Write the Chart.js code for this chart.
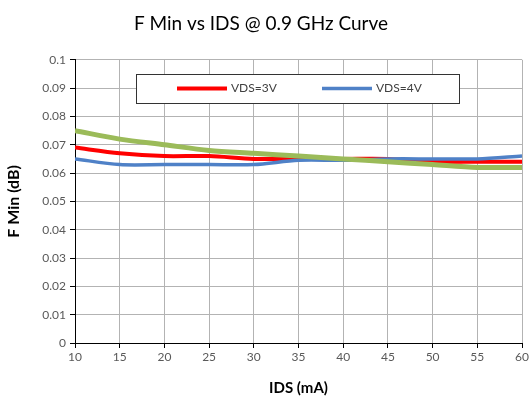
<!DOCTYPE html>
<html>
<head>
<meta charset="utf-8">
<script src="https://cdn.jsdelivr.net/npm/chart.js@4/dist/chart.umd.min.js"></script>
<style>
    html, body { margin: 0; padding: 0; background: #fff; }
    #wrap { width: 532px; height: 401px; }
</style>
</head>
<body>
<div id="wrap"><canvas id="fminChart"></canvas></div>
<script>
// IDS sweep (mA) and minimum noise figure readings (dB)
var ids = [10, 15, 20, 25, 30, 35, 40, 45, 50, 55, 60];
var vds3 = [0.069, 0.067, 0.066, 0.066, 0.065, 0.065, 0.065, 0.065, 0.064, 0.064, 0.064];
var vds4 = [0.065, 0.063, 0.063, 0.063, 0.063, 0.0645, 0.0645, 0.065, 0.065, 0.065, 0.066];
var trend = [0.075, 0.072, 0.070, 0.068, 0.067, 0.066, 0.065, 0.064, 0.063, 0.062, 0.062];
var seriesNames = ['VDS=3V', 'VDS=4V'];

var FONT = 'Lato, "Open Sans", sans-serif';

function points(vals) {
    return ids.map(function (x, i) { return { x: x, y: vals[i] }; });
}

/* ========= LEGEND BOX (inside plot) ========= */
var boxLegend = {
    id: 'boxLegend',
    afterDatasetsDraw: function (chart) {
        var ctx = chart.ctx;
        var left = 136, top = 74, w = 323, h = 29;
        ctx.save();
        ctx.fillStyle = '#fff';
        ctx.fillRect(left, top, w, h);
        ctx.strokeStyle = '#333';
        ctx.lineWidth = 1;
        ctx.strokeRect(left + 0.5, top + 0.5, w, h);

        var items = chart.data.datasets.filter(function (d) { return d.inLegend; });
        var xs = [177, 322];
        var cy = top + h / 2;
        ctx.font = '12px ' + FONT;
        ctx.textBaseline = 'middle';
        items.forEach(function (d, i) {
            ctx.strokeStyle = d.borderColor;
            ctx.lineWidth = d.borderWidth;
            ctx.beginPath();
            ctx.moveTo(xs[i], cy);
            ctx.lineTo(xs[i] + 50, cy);
            ctx.stroke();
            ctx.fillStyle = '#404040';
            ctx.fillText(d.label, xs[i] + 54, cy);
        });
        ctx.restore();
    }
};

new Chart(document.getElementById('fminChart'), {
    type: 'line',
    data: {
        datasets: [{
            label: seriesNames[0],
            data: points(vds3),
            borderColor: '#ff0000',
            borderWidth: 4,
            inLegend: true,
            order: 2
        }, {
            label: seriesNames[1],
            data: points(vds4),
            borderColor: '#4f81c7',
            borderWidth: 3.5,
            inLegend: true,
            order: 1
        }, {
            label: 'Trend',
            data: points(trend),
            borderColor: '#9bbb59',
            borderWidth: 5,
            inLegend: false,
            order: 0
        }]
    },
    options: {
        responsive: true,
        maintainAspectRatio: false,
        animation: false,
        elements: {
            point: { radius: 0 },
            line: { tension: 0.3, borderCapStyle: 'butt' }
        },
        layout: { padding: { top: 0, right: 10, bottom: 0, left: 0 } },
        plugins: {
            legend: { display: false },
            tooltip: { enabled: false },
            title: {
                display: true,
                text: 'F Min vs IDS @ 0.9 GHz Curve',
                color: '#000',
                font: { family: FONT, size: 19, weight: 'normal' },
                padding: { top: 12, bottom: 25 }
            }
        },
        scales: {
            x: {
                type: 'linear',
                min: 10,
                max: 60,
                ticks: { stepSize: 5, color: '#595959', font: { family: FONT, size: 12 }, padding: 2 },
                grid: { color: '#b3b3b3', tickColor: '#000', tickLength: 5 },
                border: { color: '#000' },
                title: {
                    display: true,
                    text: 'IDS (mA)',
                    color: '#000',
                    font: { family: FONT, size: 15, weight: 'bold' },
                    padding: { top: 12 }
                },
                afterFit: function (s) { s.height = 58; }
            },
            y: {
                min: 0,
                max: 0.1,
                ticks: {
                    stepSize: 0.01,
                    color: '#595959',
                    font: { family: FONT, size: 12 },
                    padding: 4,
                    callback: function (v) { return String(Number(v.toFixed(2))); }
                },
                grid: { color: '#b3b3b3', tickColor: '#000', tickLength: 5 },
                border: { color: '#000' },
                title: {
                    display: true,
                    text: 'F Min (dB)',
                    color: '#000',
                    font: { family: FONT, size: 16, weight: 'bold' },
                    padding: { bottom: 6 }
                },
                afterFit: function (s) { s.width = 75; }
            }
        }
    },
    plugins: [boxLegend]
});
</script>
</body>
</html>
